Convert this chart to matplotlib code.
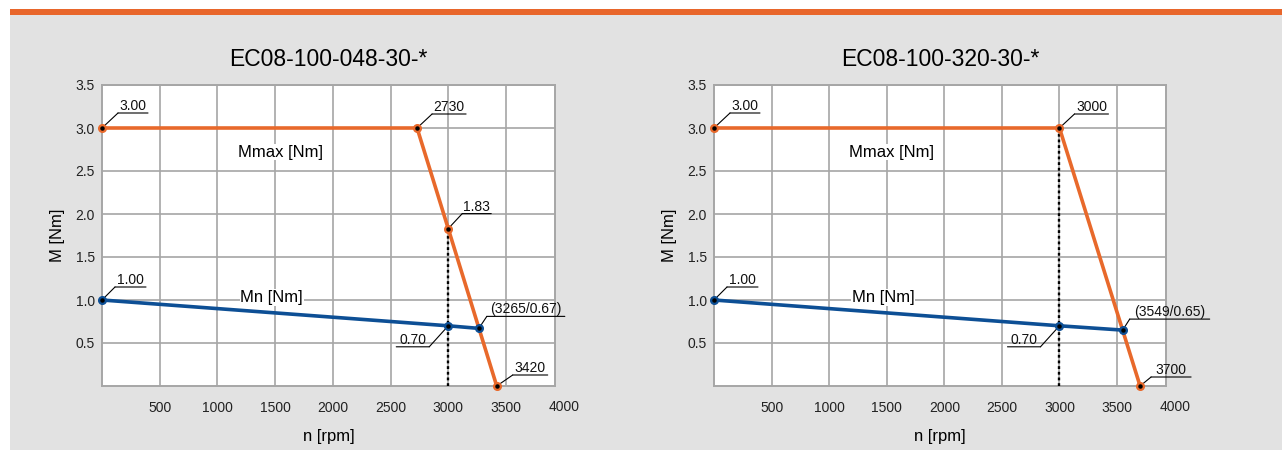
import matplotlib.pyplot as plt
import matplotlib.transforms as mtransforms
from matplotlib.patches import Rectangle

plt.rcParams['font.family'] = ['Liberation Sans', 'DejaVu Sans']

# data
titles = ['EC08-100-048-30-*', 'EC08-100-320-30-*']

left_max_n = [0, 2730, 3000, 3420]
left_max_m = [3.00, 3.00, 1.83, 0.0]
left_rated_n = [0, 3000, 3265]
left_rated_m = [1.00, 0.70, 0.67]

right_max_n = [0, 3000, 3700]
right_max_m = [3.00, 3.00, 0.0]
right_rated_n = [0, 3000, 3549]
right_rated_m = [1.00, 0.70, 0.65]

x_ticks = [500, 1000, 1500, 2000, 2500, 3000, 3500]
y_ticks = [0.5, 1.0, 1.5, 2.0, 2.5, 3.0, 3.5]

# labels: (text, n, M, dx px, dy px, underline length px)
left_notes = [('3.00', 0, 3.00, 16, 15, 30),
              ('2730', 2730, 3.00, 15, 14, 34),
              ('1.83', 3000, 1.83, 14, 15, 29),
              ('1.00', 0, 1.00, 13, 13, 31),
              ('0.70', 3000, 0.70, -19, -21, -33),
              ('(3265/0.67)', 3265, 0.67, 8, 12, 78),
              ('3420', 3420, 0.0, 16, 11, 35)]
right_notes = [('3.00', 0, 3.00, 16, 15, 30),
               ('3000', 3000, 3.00, 15, 14, 34),
               ('1.00', 0, 1.00, 13, 13, 31),
               ('0.70', 3000, 0.70, -19, -21, -33),
               ('(3549/0.65)', 3549, 0.65, 7, 11, 80),
               ('3700', 3700, 0.0, 11, 9, 40)]

ORANGE = '#e8692b'
BLUE = '#0d4f95'
GRID = '#a6a6a6'

fig = plt.figure(figsize=(12.82, 4.5), dpi=100)
fig.patch.set_facecolor('white')
W, H = 1282.0, 450.0
fig.patches.append(Rectangle((10 / W, 0), 1, 435 / H, transform=fig.transFigure,
                             facecolor='#e2e2e2', edgecolor='none', zorder=-10))
fig.patches.append(Rectangle((10 / W, 435 / H), 1, 6 / H, transform=fig.transFigure,
                             facecolor='#e8662b', edgecolor='none', zorder=-10))


def note(ax, text, n, m, dx, dy, L):
    ax.annotate('', xy=(n, m), xytext=(dx, dy), textcoords='offset pixels',
                arrowprops=dict(arrowstyle='-', color='black', lw=0.8,
                                shrinkA=0, shrinkB=0), annotation_clip=False)
    t1 = mtransforms.offset_copy(ax.transData, fig=fig, x=dx, y=dy, units='dots')
    t2 = mtransforms.offset_copy(ax.transData, fig=fig, x=dx + L, y=dy, units='dots')
    ax.annotate('', xy=(n, m), xycoords=t1, xytext=(n, m), textcoords=t2,
                arrowprops=dict(arrowstyle='-', color='black', lw=0.8,
                                shrinkA=0, shrinkB=0), annotation_clip=False)
    ax.annotate(text, xy=(n, m), xytext=(dx + L / 2, dy), textcoords='offset pixels',
                ha='center', va='bottom', fontsize=10, color='#111111',
                annotation_clip=False)


def panel(rect, title, max_n, max_m, rated_n, rated_m, dot_top, notes):
    ax = fig.add_axes(rect)
    ax.set_facecolor('white')
    ax.set_xlim(0, 3925)
    ax.set_ylim(0, 3.5)
    ax.set_xticks(x_ticks)
    ax.set_yticks(y_ticks)
    ax.set_xticklabels([str(v) for v in x_ticks])
    ax.set_yticklabels(['%.1f' % v for v in y_ticks])
    ax.tick_params(length=0, labelsize=10, colors='#222222')
    ax.tick_params(axis='x', pad=11)
    ax.tick_params(axis='y', pad=5)
    # the 4000 label sits just past the right edge of the frame
    ax.text(4000, -0.245, '4000', transform=ax.transData, ha='center', va='center',
            fontsize=10, color='#222222', clip_on=False)
    ax.grid(True, color=GRID, lw=1.2)
    ax.set_axisbelow(True)
    for s in ax.spines.values():
        s.set_color(GRID)
        s.set_linewidth(1.4)

    ax.plot([3000, 3000], [0, dot_top], color='black', lw=1.7, ls=(0, (1.2, 1.2)), zorder=3)
    ax.plot(max_n, max_m, color=ORANGE, lw=2.6, zorder=4, clip_on=False,
            marker='o', ms=5.5, mfc=ORANGE, mec=ORANGE)
    ax.plot(max_n, max_m, ls='none', marker='o', ms=2.2, color='black', zorder=5, clip_on=False)
    ax.plot(rated_n, rated_m, color=BLUE, lw=2.6, zorder=6, clip_on=False,
            marker='o', ms=5.5, mfc=BLUE, mec=BLUE)
    ax.plot(rated_n, rated_m, ls='none', marker='o', ms=2.2, color='black', zorder=7, clip_on=False)

    ax.text(1545, 2.72, 'Mmax [Nm]', ha='center', va='center', fontsize=12,
            bbox=dict(facecolor='white', edgecolor='none', pad=0.5), zorder=3)
    ax.text(1470, 1.03, 'Mn [Nm]', ha='center', va='center', fontsize=12,
            bbox=dict(facecolor='white', edgecolor='none', pad=0.5), zorder=3)

    for t in notes:
        note(ax, *t)

    ax.set_title(title, fontsize=16.5, pad=13.5)
    ax.set_xlabel('n [rpm]', fontsize=12)
    ax.set_ylabel('M [Nm]', fontsize=12)
    ax.xaxis.set_label_coords(0.5, -0.142)
    ax.yaxis.set_label_coords(-0.082, 0.5)
    return ax


ax_w = 453 / W
ax_h = 301 / H
ax_b = (450 - 386) / H
panel([102 / W, ax_b, ax_w, ax_h], titles[0], left_max_n, left_max_m,
      left_rated_n, left_rated_m, 1.83, left_notes)
panel([714 / W, ax_b, 452 / W, ax_h], titles[1], right_max_n, right_max_m,
      right_rated_n, right_rated_m, 3.0, right_notes)

fig.savefig('out.png', dpi=100, facecolor=fig.get_facecolor())
